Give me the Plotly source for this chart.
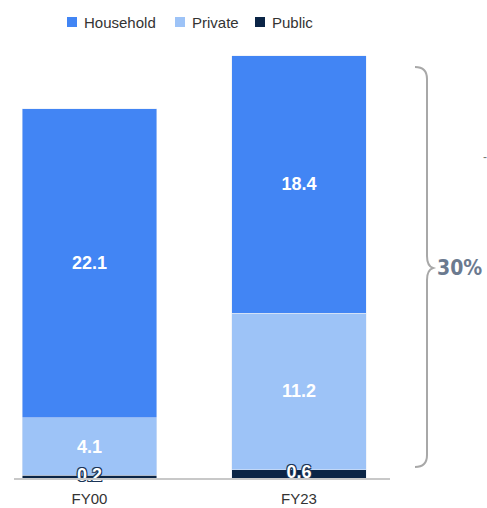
import plotly.graph_objects as go

categories = ["FY00", "FY23"]
household = [22.1, 18.4]
private = [4.1, 11.2]
public = [0.2, 0.6]
series_names = ["Household", "Private", "Public"]
brace_label = "30%"

C_HOUSE = "#4285F4"
C_PRIV = "#9DC3F7"
C_PUB = "#0B2546"

W, H = 487, 508
L, R, T, B = 14, 390, 50, 478  # plot area in pixels


def px(x):
    return (x - L) / (R - L)


def py(y):
    return (B - y) / (B - T)


fig = go.Figure()
bar_w = 0.644
label_font = dict(family="Liberation Sans, Arial", size=18, color="white", weight="bold")

fig.add_trace(go.Bar(name=series_names[2], x=categories, y=public, marker_color=C_PUB,
                     width=bar_w, textposition="none", showlegend=False))
fig.add_trace(go.Bar(name=series_names[1], x=categories, y=private, marker_color=C_PRIV,
                     width=bar_w, text=[f"{v:.1f}" for v in private], textposition="inside",
                     insidetextanchor="middle", constraintext="none", textfont=label_font,
                     showlegend=False))
fig.add_trace(go.Bar(name=series_names[0], x=categories, y=household, marker_color=C_HOUSE,
                     width=bar_w, text=[f"{v:.1f}" for v in household], textposition="inside",
                     insidetextanchor="middle", constraintext="none", textfont=label_font,
                     showlegend=False))
fig.add_trace(go.Scatter(x=categories, y=[v / 2 for v in public], mode="text",
                         text=[f"{v:.1f}" for v in public], showlegend=False, hoverinfo="skip",
                         textfont=dict(family="Liberation Sans, Arial", size=18, color="white",
                                       weight="bold",
                                       shadow="1px 1px 0 #1a3355, -1px -1px 0 #1a3355, 1px -1px 0 #1a3355, -1px 1px 0 #1a3355"),
                         cliponaxis=False))

# legend drawn as small squares + labels
legend_items = [(series_names[0], C_HOUSE, 67), (series_names[1], C_PRIV, 175), (series_names[2], C_PUB, 255)]
for name, col, x0 in legend_items:
    fig.add_shape(type="rect", xref="paper", yref="paper",
                  x0=px(x0), x1=px(x0 + 10), y0=py(27), y1=py(17),
                  fillcolor=col, line=dict(width=0))
    fig.add_annotation(x=px(x0 + 15), y=py(22), xref="paper", yref="paper", text=name,
                       showarrow=False, xanchor="left", yanchor="middle",
                       font=dict(family="Liberation Sans, Arial", size=15, color="#333333"))

path = (f"M {px(415)},{py(67)} Q {px(427)},{py(67)} {px(427)},{py(79)} "
        f"L {px(427)},{py(256)} Q {px(427)},{py(266)} {px(433)},{py(268)} "
        f"Q {px(427)},{py(270)} {px(427)},{py(280)} "
        f"L {px(427)},{py(455)} Q {px(427)},{py(467)} {px(415)},{py(467)}")
fig.add_shape(type="path", path=path, xref="paper", yref="paper",
              line=dict(color="#a8a8a8", width=2))

fig.add_annotation(x=px(435), y=py(268), xref="paper", yref="paper", text=brace_label,
                   showarrow=False, xanchor="left", yanchor="middle",
                   font=dict(family="DejaVu Sans Condensed, Liberation Sans Narrow", size=21,
                             color="#6b7a8f", weight="bold"))
fig.add_annotation(x=px(481), y=py(157), xref="paper", yref="paper", text="-",
                   showarrow=False, xanchor="left", yanchor="middle",
                   font=dict(family="Liberation Sans", size=12, color="#777777"))

fig.update_layout(
    width=W, height=H,
    margin=dict(l=L, r=W - R, t=T, b=H - B, pad=0, autoexpand=False),
    barmode="stack",
    plot_bgcolor="white", paper_bgcolor="white",
    font=dict(family="Liberation Sans, Arial", size=13, color="#333333"),
    showlegend=False,
    xaxis=dict(type="category", range=[(L - 89.5) / 209.5, (R - 89.5) / 209.5],
               automargin=False,
               showline=True, linecolor="#c8c8c8", linewidth=2, ticks="",
               ticklabelstandoff=6,
               showgrid=False, zeroline=False, tickfont=dict(size=15, color="#333333")),
    yaxis=dict(range=[0, (B - T) / 13.98], visible=False, showgrid=False, zeroline=False,
               automargin=False),
)

fig.write_html("out.html")
